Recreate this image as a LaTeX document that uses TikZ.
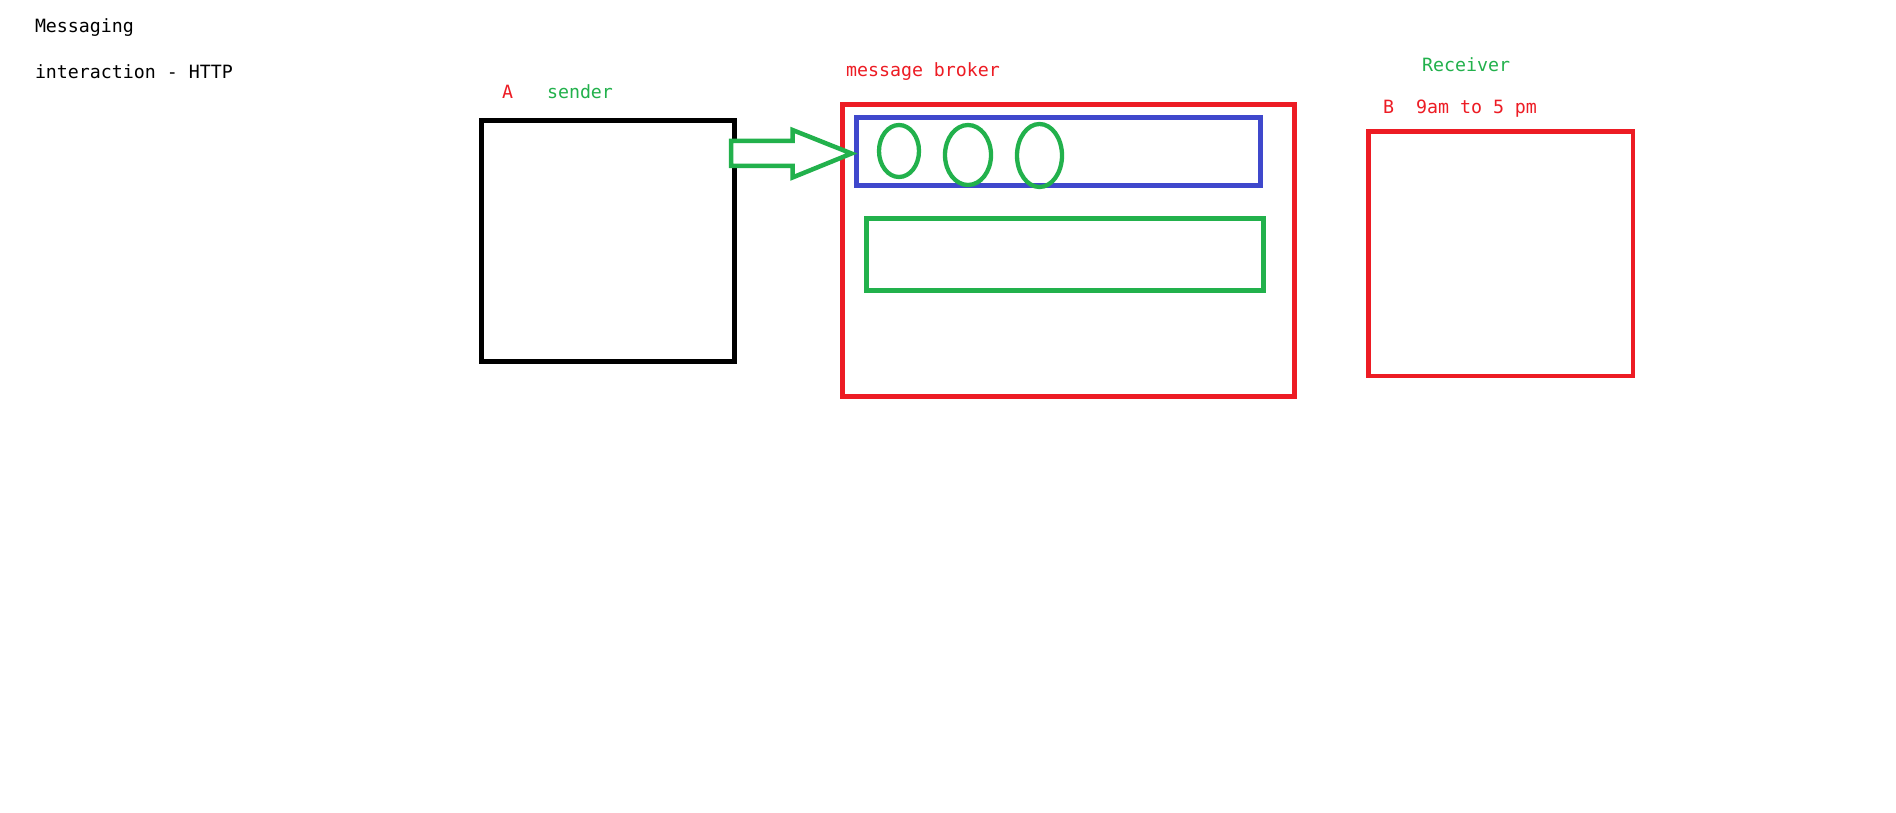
\documentclass[tikz,border=0pt]{standalone}
\usepackage{fontspec}
\setmonofont{DejaVu Sans Mono}
\usetikzlibrary{shapes.geometric,calc}
\definecolor{pred}{HTML}{ED1C24}
\definecolor{pgreen}{HTML}{22B14C}
\definecolor{pblue}{HTML}{3F48CC}
\begin{document}
\begin{tikzpicture}[x=1pt,y=-1pt,
  every node/.style={inner sep=0pt,outer sep=0pt},
  lbl/.style={font=\ttfamily\fontsize{18.27}{20}\selectfont,anchor=base west},
  box/.style={draw,rectangle,line width=4.7pt,inner sep=0pt},
  msg/.style={draw=pgreen,ellipse,line width=4.3pt,inner sep=0pt},
  blockarrow/.style={draw=pgreen,line width=4.5pt,line join=miter,fill=white}]
\fill[white] (0,0) rectangle (1896,813);
\useasboundingbox (0,0) rectangle (1896,813);

% titles
\node[lbl] (t1) at (35,33) {Messaging};
\node[lbl] (t2) at (35,79) {interaction - HTTP};

% sender
\node[lbl,text=pred] (la) at (502,99) {A};
\node[lbl,text=pgreen] (ls) at (547,99) {sender};
\node[box,draw=black,minimum width=253pt,minimum height=241pt] (sender) at (608,241) {};

% broker
\node[lbl,text=pred] (lb) at (846,77) {message broker};
\node[box,draw=pred,minimum width=452pt,minimum height=292pt] (broker) at (1068.5,250.5) {};
\node[box,draw=pblue,minimum width=404pt,minimum height=68pt] (queue) at (1058.5,151.5) {};
\node[box,draw=pgreen,minimum width=397pt,minimum height=72pt] (store) at (1065,254.5) {};
\node[msg,minimum width=40pt,minimum height=52pt] (m1) at (899,151) {};
\node[msg,minimum width=46pt,minimum height=60pt] (m2) at (968,155) {};
\node[msg,minimum width=45pt,minimum height=63pt] (m3) at (1039.5,155.5) {};

% receiver
\node[lbl,text=pgreen] (lr) at (1422,72) {Receiver};
\node[lbl,text=pred] (lt) at (1383,114) {B\ \ 9am to 5 pm};
\node[box,draw=pred,minimum width=264.5pt,minimum height=244.5pt] (receiver) at (1500.75,253.75) {};

% block arrow from sender to queue
\coordinate (tail) at ($(sender.east |- queue.west)+(-3.5,2)$);
\coordinate (tip) at ($(queue.west)+(-5,2)$);
\draw[blockarrow] ($(tail)+(0,-12.5)$) -- ++(61.5,0) -- ++(0,-11)
  -- (tip) -- ($(tail)+(61.5,24)$) -- ++(0,-11.5) -- ($(tail)+(0,12.5)$) -- cycle;
\end{tikzpicture}
\end{document}
